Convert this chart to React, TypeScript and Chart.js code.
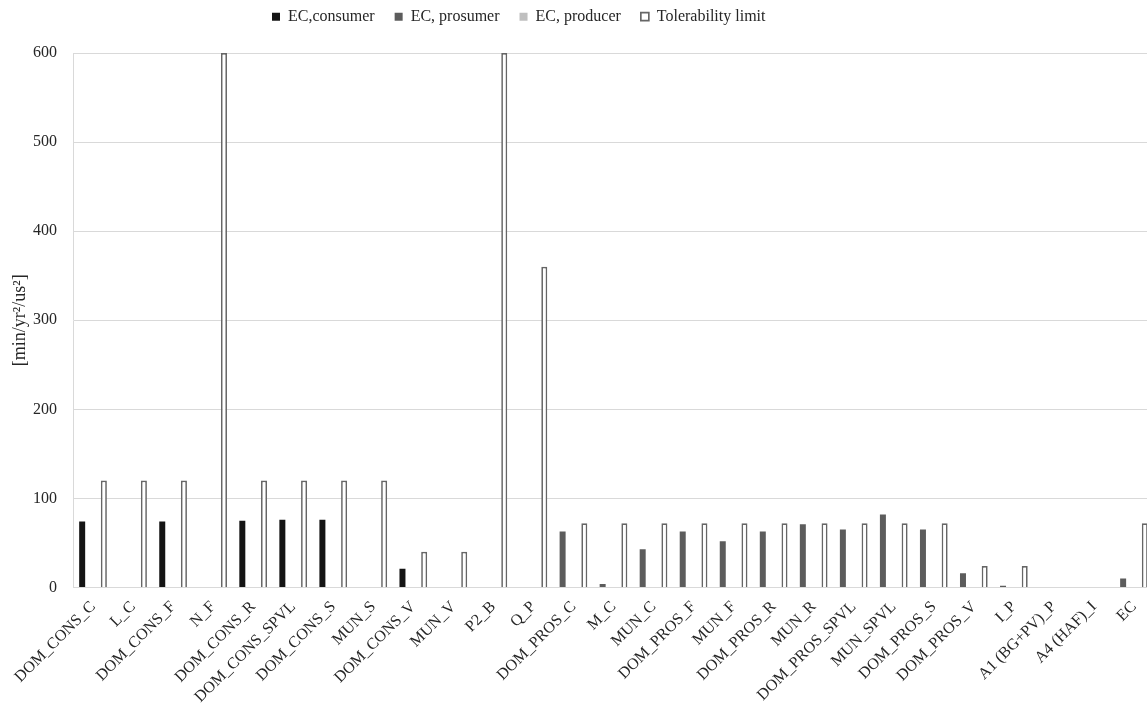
import { useEffect, useRef } from 'react';
import { Chart, registerables } from 'chart.js';

Chart.register(...registerables);

const categories = [
  'DOM_CONS_C', 'L_C', 'DOM_CONS_F', 'N_F', 'DOM_CONS_R', 'DOM_CONS_SPVL', 'DOM_CONS_S', 'MUN_S',
  'DOM_CONS_V', 'MUN_V', 'P2_B', 'Q_P', 'DOM_PROS_C', 'M_C', 'MUN_C', 'DOM_PROS_F', 'MUN_F',
  'DOM_PROS_R', 'MUN_R', 'DOM_PROS_SPVL', 'MUN_SPVL', 'DOM_PROS_S', 'DOM_PROS_V', 'I_P',
  'A1 (BG+PV)_P', 'A4 (HAF)_I', 'EC',
];

const consumerValues = [
  74, null, 74, null, 75, 76, 76, null, 21, null, null, null, null, null, null, null, null,
  null, null, null, null, null, null, null, null, null, null,
];

const prosumerValues = [
  null, null, null, null, null, null, null, null, null, null, null, null, 63, 4, 43, 63, 52,
  63, 71, 65, 82, 65, 16, 2, null, null, 10,
];

const producerValues = [
  null, null, null, null, null, null, null, null, null, null, null, null, null, null, null, null, null,
  null, null, null, null, null, null, null, null, null, null,
];

const toleranceValues = [
  120, 120, 120, 600, 120, 120, 120, 120, 40, 40, 600, 360, 72, 72, 72, 72, 72,
  72, 72, 72, 72, 72, 24, 24, null, null, 72,
];

const seriesNames = ['EC,consumer', 'EC, prosumer', 'EC, producer', 'Tolerability limit'];
const yMin = 0;
const yMax = 600;
const yStep = 100;
const yTitle = '[min/yr\u00B2/us\u00B2]';

const W = 1162;
const H = 708;
const FONT = "'Liberation Serif', 'Times New Roman', serif";
const TEXT = '#262626';
const GRID = '#d9d9d9';

export default function App() {
  const ref = useRef<HTMLCanvasElement | null>(null);

  useEffect(() => {
    const canvas = ref.current;
    if (!canvas) return;

    const legendPlace = {
      id: 'legendPlace',
      beforeInit(chart: any) {
        const lg = chart.legend;
        if (lg) {
          const fit = lg.fit;
          lg.fit = function () {
            fit.call(this);
            this.height = 53;
          };
        }
      },
      afterLayout(chart: any) {
        const lg = chart.legend;
        if (lg) {
          lg.left = 252;
          lg.right = W;
          lg.width = W - 252;
          lg.top = -11.3;
          lg.bottom = lg.top + lg.height;
        }
      },
    };

    const chart = new Chart(canvas, {
      type: 'bar',
      data: {
        labels: categories,
        datasets: [
          {
            label: seriesNames[0],
            data: consumerValues,
            backgroundColor: '#141414',
            borderWidth: 0,
            stack: 'ec',
          },
          {
            label: seriesNames[1],
            data: prosumerValues,
            backgroundColor: '#5c5c5c',
            borderWidth: 0,
            stack: 'ec',
          },
          {
            label: seriesNames[2],
            data: producerValues,
            backgroundColor: '#bfbfbf',
            borderWidth: 0,
            stack: 'ec',
          },
          {
            label: seriesNames[3],
            data: toleranceValues,
            backgroundColor: '#ffffff',
            borderColor: '#666666',
            borderWidth: 1.7,
            stack: 'tol',
          },
        ] as any,
      },
      options: {
        animation: false,
        responsive: false,
        devicePixelRatio: 1,
        layout: { padding: { left: 0, right: 8, top: 0, bottom: 0 } },
        datasets: {
          bar: {
            categoryPercentage: 1.084,
            barPercentage: 0.9,
            maxBarThickness: 6,
          },
        } as any,
        plugins: {
          tooltip: { enabled: false },
          legend: {
            display: true,
            position: 'top',
            align: 'start',
            labels: {
              boxWidth: 8,
              boxHeight: 8,
              padding: 20,
              color: TEXT,
              font: { family: FONT, size: 16 },
            },
          },
        },
        scales: {
          x: {
            stacked: true,
            grid: { display: false, drawTicks: false },
            border: { display: true, color: GRID, width: 1 },
            ticks: {
              autoSkip: false,
              maxRotation: 45,
              minRotation: 45,
              padding: 10,
              color: TEXT,
              font: { family: FONT, size: 16 },
            },
            afterFit: (s: any) => {
              s.height = H - 587.5;
            },
          },
          y: {
            stacked: true,
            min: yMin,
            max: yMax,
            grid: { color: GRID, lineWidth: 1, drawTicks: false },
            border: { display: true, color: GRID, width: 1 },
            ticks: {
              stepSize: yStep,
              padding: 16,
              color: TEXT,
              font: { family: FONT, size: 16 },
            },
            title: {
              display: true,
              text: yTitle,
              color: TEXT,
              font: { family: FONT, size: 18 },
              padding: { top: 9, bottom: 4 },
            },
            afterFit: (s: any) => {
              s.width = 73;
            },
          },
        },
      },
      plugins: [legendPlace],
    });

    return () => {
      chart.destroy();
    };
  }, []);

  return (
    <div
      style={{
        position: 'fixed',
        left: 0,
        top: 0,
        width: 1147,
        height: H,
        overflow: 'hidden',
        background: '#ffffff',
      }}
    >
      <canvas ref={ref} width={W} height={H} style={{ display: 'block', width: W, height: H }} />
    </div>
  );
}
